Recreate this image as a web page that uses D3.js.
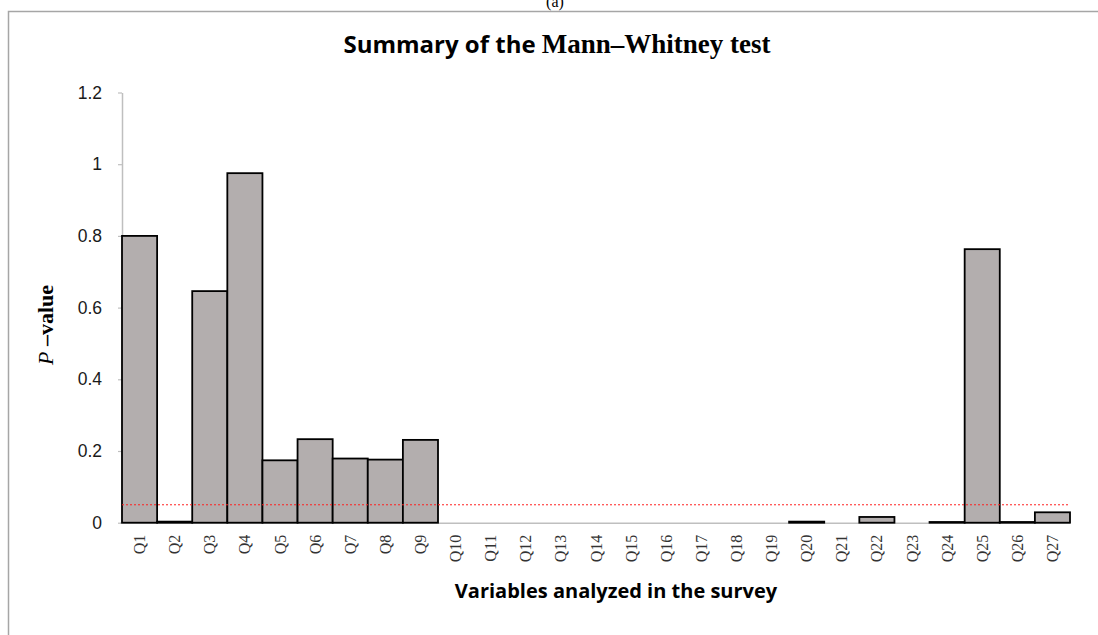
<!DOCTYPE html>
<html>
<head>
<meta charset="utf-8">
<script src="https://cdn.jsdelivr.net/npm/d3@7"></script>
<style>
  body { margin: 0; background: #fff; }
  svg { display: block; }
</style>
</head>
<body>
<div id="chart"></div>
<script>
(function () {
    var width = 1098,
        height = 635;

    // survey variables and their p-values
    var questions = ["Q1", "Q2", "Q3", "Q4", "Q5", "Q6", "Q7", "Q8", "Q9", "Q10",
        "Q11", "Q12", "Q13", "Q14", "Q15", "Q16", "Q17", "Q18", "Q19", "Q20",
        "Q21", "Q22", "Q23", "Q24", "Q25", "Q26", "Q27"];
    var pValues = [0.80, 0.003, 0.646, 0.975, 0.174, 0.233, 0.179, 0.176, 0.231, 0,
        0, 0, 0, 0, 0, 0, 0, 0, 0, 0.003,
        0, 0.016, 0, 0.002, 0.763, 0.002, 0.029];
    var yTicks = [0, 0.2, 0.4, 0.6, 0.8, 1, 1.2];
    var threshold = 0.05;

    var svg = d3.select("#chart")
        .append("svg")
        .attr("width", width)
        .attr("height", height);

    // frame of the figure panel
    svg.append("path")
        .attr("d", "M8.5," + height + "V11.5H" + width)
        .attr("fill", "none")
        .attr("stroke", "#a6a6a6")
        .attr("stroke-width", 1.5);

    svg.append("text")
        .attr("x", 555)
        .attr("y", 7)
        .attr("text-anchor", "middle")
        .style("font-family", "'Liberation Serif', serif")
        .style("font-size", "16px")
        .text("(a)");

    var x = d3.scaleBand()
        .domain(questions)
        .range([122, 1070])
        .padding(0);

    var y = d3.scaleLinear()
        .domain([0, 1.2])
        .range([522.7, 92.5]);

    var data = questions.map(function (q, i) {
        return { name: q, p: pValues[i] };
    });

    // y axis
    var yAxis = svg.append("g")
        .attr("transform", "translate(122,0)")
        .call(d3.axisLeft(y)
            .tickValues(yTicks)
            .tickSize(4)
            .tickSizeOuter(0)
            .tickPadding(16)
            .tickFormat(function (d) { return d3.format("~g")(d); }));
    yAxis.select(".domain").attr("stroke", "#bfbfbf").attr("stroke-width", 1.5);
    yAxis.selectAll(".tick line").attr("stroke", "#bfbfbf").attr("stroke-width", 1.2);
    yAxis.selectAll(".tick text")
        .attr("fill", "#1a1a1a")
        .style("font-family", "'Liberation Sans', Arial, sans-serif")
        .style("font-size", "17.5px");

    // x axis
    var xAxis = svg.append("g")
        .attr("transform", "translate(0," + y(0) + ")")
        .call(d3.axisBottom(x).tickSize(0).tickSizeOuter(0));
    xAxis.select(".domain")
        .attr("d", "M120,0.5H1070")
        .attr("stroke", "#bfbfbf")
        .attr("stroke-width", 1.5);
    xAxis.selectAll(".tick text")
        .attr("transform", "rotate(-90)")
        .attr("x", -12)
        .attr("y", 0)
        .attr("dy", "0.35em")
        .attr("text-anchor", "end")
        .attr("fill", "#333")
        .style("font-family", "'Liberation Serif', 'Times New Roman', serif")
        .style("font-size", "16px");

    // bars
    svg.selectAll(".bar")
        .data(data)
        .enter().append("rect")
        .attr("class", "bar")
        .attr("x", function (d) { return x(d.name); })
        .attr("y", function (d) { return y(d.p); })
        .attr("width", x.bandwidth())
        .attr("height", function (d) { return y(0) - y(d.p); })
        .attr("fill", "#b3aeae")
        .attr("stroke", "#000")
        .attr("stroke-width", 1.8);

    // 0.05 significance line
    svg.append("line")
        .attr("x1", 122)
        .attr("x2", 1070)
        .attr("y1", y(threshold))
        .attr("y2", y(threshold))
        .attr("stroke", "#ff2020")
        .attr("stroke-width", 1)
        .attr("stroke-dasharray", "2,2");

    // title
    var title = svg.append("text")
        .attr("x", 557)
        .attr("y", 53)
        .attr("text-anchor", "middle")
        .style("font-weight", "bold");
    title.append("tspan")
        .style("font-family", "'Open Sans', sans-serif")
        .style("font-size", "24px")
        .text("Summary of the ");
    title.append("tspan")
        .style("font-family", "'Liberation Serif', serif")
        .style("font-size", "27px")
        .text("Mann–Whitney test");

    // y label
    var ylab = svg.append("text")
        .attr("transform", "translate(53,325) rotate(-90)")
        .attr("text-anchor", "middle")
        .style("font-family", "'Liberation Serif', serif")
        .style("font-size", "22px");
    ylab.append("tspan")
        .style("font-style", "italic")
        .text("P");
    ylab.append("tspan")
        .style("font-weight", "bold")
        .text(" –value");

    // x label
    svg.append("text")
        .attr("x", 616)
        .attr("y", 598)
        .attr("text-anchor", "middle")
        .style("font-family", "'Open Sans', sans-serif")
        .style("font-weight", "bold")
        .style("font-size", "20px")
        .text("Variables analyzed in the survey");
})();
</script>
</body>
</html>
